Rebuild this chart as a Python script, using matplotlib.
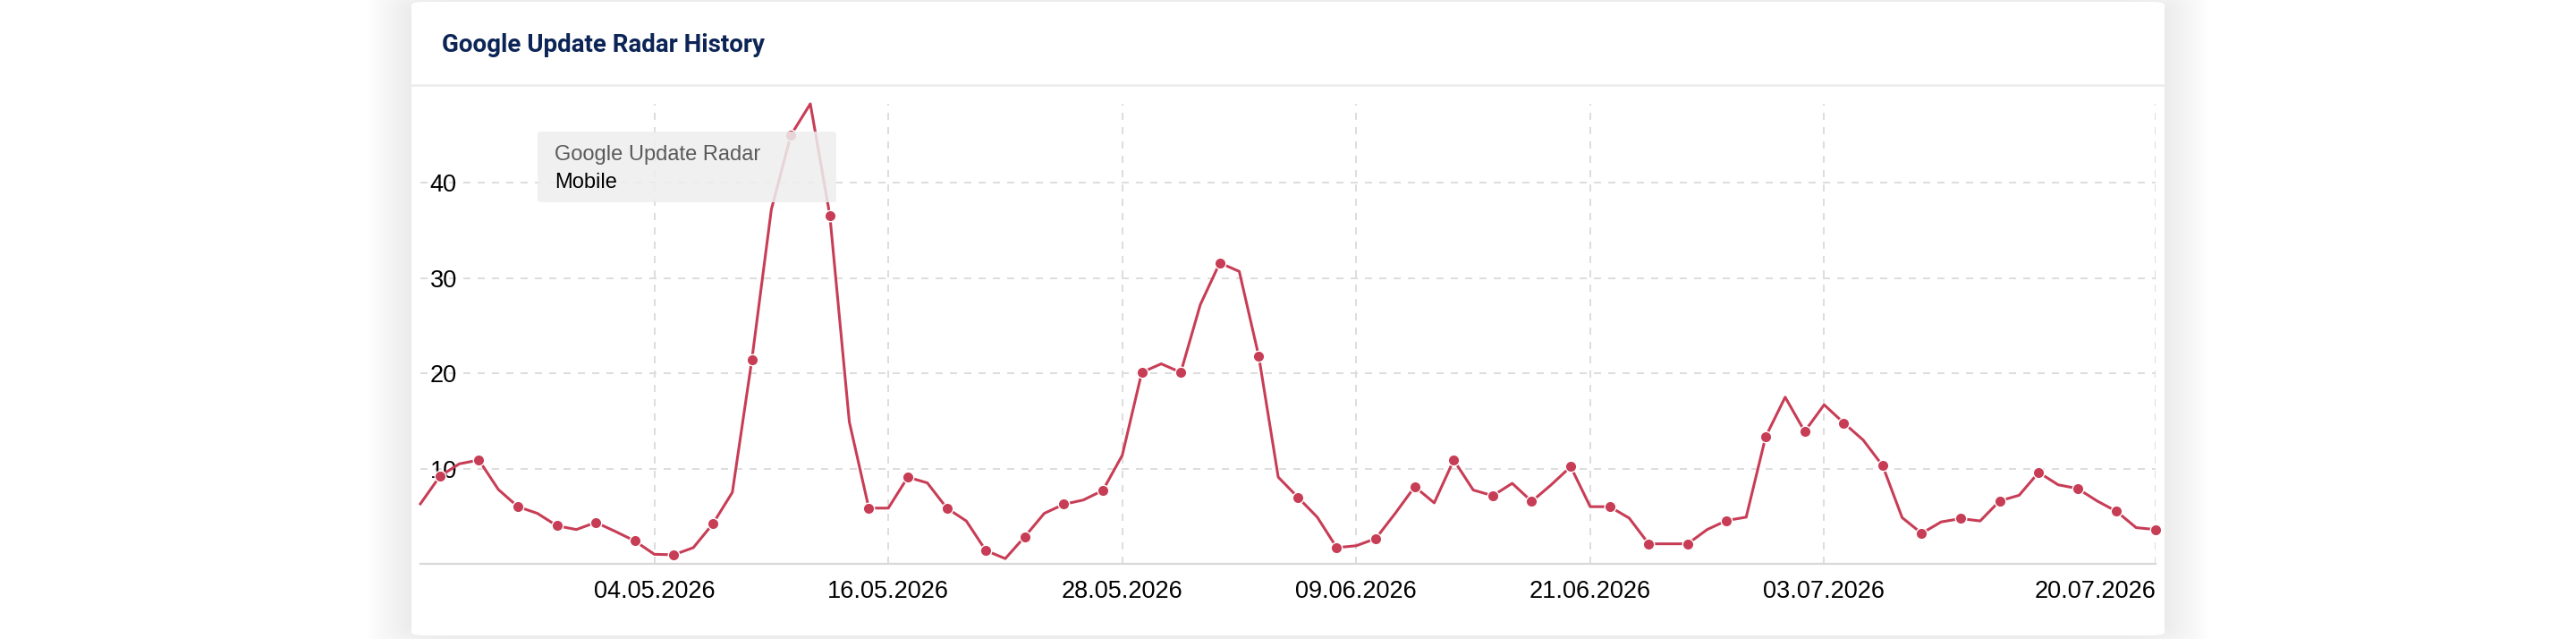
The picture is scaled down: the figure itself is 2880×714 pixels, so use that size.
import matplotlib
matplotlib.use('Agg')
import matplotlib.pyplot as plt
from matplotlib.patches import FancyBboxPatch
import pandas as pd

# daily radar values, 22.04.2026 .. 20.07.2026
start_date = '2026-04-22'
values = [6.3, 9.2, 10.5, 10.9, 7.8, 6.0, 5.3, 4.0, 3.6, 4.35,
          3.4, 2.4, 1.0, 0.95, 1.7, 4.2, 7.5, 21.4, 37.2, 45.0,
          48.3, 36.6, 14.9, 5.85, 5.85, 9.1, 8.5, 5.85, 4.5, 1.4,
          0.55, 2.85, 5.3, 6.25, 6.7, 7.7, 11.4, 20.1, 21.0, 20.1,
          27.2, 31.6, 30.7, 21.8, 9.1, 7.0, 4.9, 1.7, 1.9, 2.65,
          5.3, 8.1, 6.4, 10.9, 7.75, 7.15, 8.45, 6.55, 8.3, 10.2,
          6.0, 6.0, 4.8, 2.1, 2.1, 2.1, 3.6, 4.55, 4.9, 13.35,
          17.5, 13.9, 16.7, 14.8, 13.0, 10.3, 4.85, 3.2, 4.4, 4.75,
          4.5, 6.6, 7.2, 9.6, 8.3, 7.9, 6.6, 5.5, 3.8, 3.6]
tick_labels = ['04.05.2026', '16.05.2026', '28.05.2026', '09.06.2026',
               '21.06.2026', '03.07.2026', '20.07.2026']
y_ticks = [10, 20, 30, 40]

title = 'Google Update Radar History'
tooltip_title = 'Google Update Radar'
tooltip_series = 'Mobile'

dates = pd.date_range(start_date, periods=len(values), freq='D')
tick_dates = pd.to_datetime(tick_labels, format='%d.%m.%Y')

W, H = 2880, 714
fig = plt.figure(figsize=(W / 100, H / 100), dpi=100)
fig.patch.set_facecolor('white')

def fx(px):
    return px / W

def fy(py):
    return 1 - py / H

# soft card shadow + card
cl, cr, ct, cb = 460, 2420, 2, 710
for k in range(20):
    pad = 2 + k * 2.5
    fig.patches.append(FancyBboxPatch(
        (fx(cl - pad), fy(cb + pad * 0.4)), fx(cr - cl + 2 * pad), (cb - ct + pad * 0.8) / H,
        boxstyle='round,pad=0,rounding_size=0.02', transform=fig.transFigure,
        facecolor='black', edgecolor='none', alpha=0.0045, zorder=-3))
fig.patches.append(FancyBboxPatch(
    (fx(cl), fy(cb)), fx(cr - cl), (cb - ct) / H,
    boxstyle='round,pad=0,rounding_size=0.005', transform=fig.transFigure,
    facecolor='white', edgecolor='none', zorder=-2))

# header
fig.text(fx(494), fy(58.5), title, fontsize=20, fontweight='bold',
         family='Roboto', color='#0c2556', va='baseline', ha='left')
fig.lines.append(plt.Line2D([fx(cl), fx(cr)], [fy(95), fy(95)],
                            transform=fig.transFigure, color='#ececec', lw=1.8, zorder=-1))

# plot area
ax = fig.add_axes([fx(470), fy(630), fx(2410 - 470), (630 - 116) / H])
ax.patch.set_alpha(0)
red = '#c83d56'
ax.plot(dates, values, color=red, lw=2.2, marker='o', markevery=slice(1, None, 2),
        ms=9, mfc=red, mec='white', mew=1.0, zorder=3, clip_on=False)

ax.set_xlim(dates[0], dates[-1])
ax.set_ylim(0, max(values))

ax.set_yticks(y_ticks)
ax.set_yticklabels([str(t) for t in y_ticks], family='Liberation Sans', fontsize=19.5, color='black')
ax.tick_params(axis='y', length=0, pad=-7.5)
for lab in ax.get_yticklabels():
    lab.set_horizontalalignment('left')

ax.set_xticks(tick_dates)
ax.set_xticklabels(tick_labels, family='Liberation Sans', fontsize=19.5, color='black')
ax.tick_params(axis='x', length=0, pad=13)
ax.get_xticklabels()[-1].set_horizontalalignment('right')

ax.grid(True, color='#dddddd', lw=1.44, linestyle=(0, (4, 4)))
ax.set_axisbelow(True)
for s in ['top', 'right', 'left']:
    ax.spines[s].set_visible(False)
ax.spines['bottom'].set_color('#d8d8d8')
ax.spines['bottom'].set_linewidth(1.6)

# tooltip box
fig.patches.append(FancyBboxPatch(
    (fx(601), fy(226)), fx(935 - 601), (226 - 147) / H,
    boxstyle='round,pad=0,rounding_size=0.0025', transform=fig.transFigure,
    facecolor='#eeeeee', edgecolor='none', alpha=0.85, zorder=5))
fig.text(fx(620), fy(178.5), tooltip_title, fontsize=17, family='Liberation Sans',
         color='#5a5a5a', va='baseline', ha='left', zorder=6)
fig.text(fx(620), fy(210), tooltip_series, fontsize=17, family='Liberation Sans',
         color='black', va='baseline', ha='left', zorder=6)

fig.savefig('out.png', dpi=100, facecolor='white')
